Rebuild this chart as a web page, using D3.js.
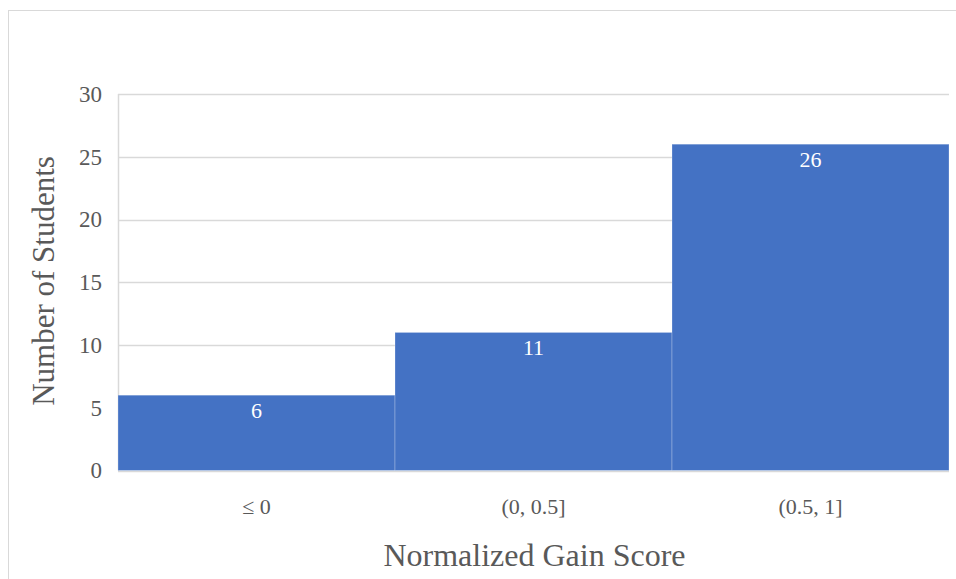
<!DOCTYPE html>
<html><head><meta charset="utf-8">
<script src="https://cdn.jsdelivr.net/npm/d3@7"></script>
<style>body{margin:0;background:#fff;}svg{display:block;}</style>
</head><body>
<script>
const categories = ["\u2264 0", "(0, 0.5]", "(0.5, 1]"];
const counts = [6, 11, 26];
const yTicks = [0, 5, 10, 15, 20, 25, 30];
const xTitle = "Normalized Gain Score";
const yTitle = "Number of Students";

(function () {
const W = 956, H = 579;
const pLeft = 118, pRight = 949, pTop = 94, pBottom = 470.5;
const svg = d3.select("body").append("svg").attr("width", W).attr("height", H);
const font = "'Liberation Serif','Times New Roman',serif";
const textColor = "#595959";

svg.append("rect").attr("x", 8.5).attr("y", 10.5).attr("width", W).attr("height", H)
  .attr("fill", "#fff").attr("stroke", "#d9d9d9").attr("stroke-width", 1);

const x = d3.scaleBand().domain(categories).range([pLeft, pRight]).padding(0);
const y = d3.scaleLinear().domain([0, 30]).range([pBottom, pTop]);

// gridlines
svg.append("g").selectAll("line").data(yTicks).join("line")
  .attr("x1", pLeft).attr("x2", pRight)
  .attr("y1", d => Math.round(y(d)) + 0.5).attr("y2", d => Math.round(y(d)) + 0.5)
  .attr("stroke", "#d9d9d9").attr("stroke-width", 1.5);
svg.append("line").attr("x1", pLeft + 0.5).attr("x2", pLeft + 0.5).attr("y1", pTop).attr("y2", pBottom)
  .attr("stroke", "#d9d9d9").attr("stroke-width", 1.5);

// bars
svg.append("g").selectAll("rect").data(counts).join("rect")
  .attr("x", (d, i) => x(categories[i]))
  .attr("y", d => y(d))
  .attr("width", x.bandwidth())
  .attr("height", d => pBottom - y(d))
  .attr("fill", "#4472C4")
  .attr("stroke", "rgba(255,255,255,0.25)").attr("stroke-width", 1);

// data labels
svg.append("g").selectAll("text").data(counts).join("text")
  .attr("x", (d, i) => x(categories[i]) + x.bandwidth() / 2)
  .attr("y", d => y(d) + 23)
  .attr("text-anchor", "middle").attr("fill", "#fff")
  .style("font-family", font).style("font-size", "22px")
  .text(d => d);

// y axis ticks
const yAxis = d3.axisLeft(y).tickValues(yTicks).tickSize(0).tickPadding(16);
const ga = svg.append("g").attr("transform", `translate(${pLeft},0)`).call(yAxis);
ga.select(".domain").remove();
ga.selectAll("text").attr("fill", textColor).style("font-family", font).style("font-size", "23px");

// x axis
const xAxis = d3.axisBottom(x).tickSize(0).tickPadding(0);
const gx = svg.append("g").attr("transform", `translate(0,${pBottom})`).call(xAxis);
gx.select(".domain").remove();
gx.selectAll("text").attr("fill", textColor).attr("dy", null).attr("y", 43)
  .style("font-family", font).style("font-size", "22px");

// titles
svg.append("text").attr("x", (pLeft + pRight) / 2 + 1).attr("y", 566)
  .attr("text-anchor", "middle").attr("fill", textColor)
  .style("font-family", font).style("font-size", "32px").text(xTitle);
svg.append("text").attr("transform", "translate(54,281) rotate(-90)")
  .attr("text-anchor", "middle").attr("fill", textColor)
  .style("font-family", font).style("font-size", "31px").text(yTitle);
})();
</script>
</body></html>
